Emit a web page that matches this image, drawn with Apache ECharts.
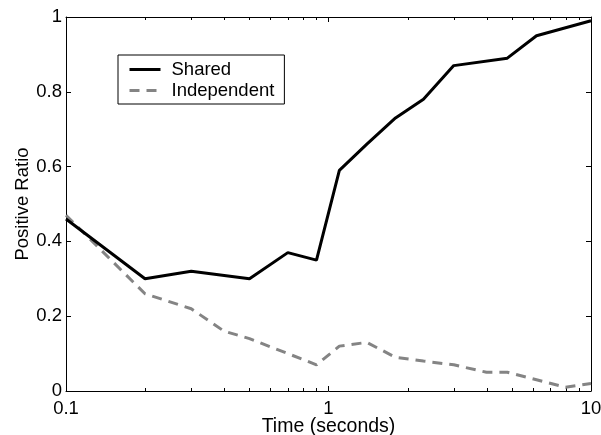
<!DOCTYPE html>
<html>
<head>
<meta charset="utf-8">
<title>Positive Ratio over Time</title>
<script src="https://cdn.jsdelivr.net/npm/echarts@6/dist/echarts.min.js"></script>
<style>
  html, body { margin: 0; padding: 0; background: #ffffff; }
  #chart { width: 601px; height: 435px; }
</style>
</head>
<body>
<div id="chart"></div>
<script>
// Measured positive ratio for the two configurations, sampled on a log time scale
const sharedTime = [0.1, 0.2, 0.3, 0.5, 0.7, 0.9, 1.1, 1.4, 1.8, 2.3, 3.0, 4.8, 6.2, 10];
const sharedRatio = [0.46, 0.30, 0.32, 0.30, 0.37, 0.35, 0.59, 0.66, 0.73, 0.78, 0.87, 0.89, 0.95, 0.99];

const independentTime = [0.1, 0.2, 0.3, 0.4, 0.5, 0.7, 0.9, 1.1, 1.4, 1.8, 2.3, 3.0, 4.0, 4.8, 6.2, 8.0, 10];
const independentRatio = [0.47, 0.26, 0.22, 0.16, 0.14, 0.10, 0.07, 0.12, 0.13, 0.09, 0.08, 0.07, 0.05, 0.05, 0.03, 0.01, 0.02];

// Intermediate log-decade tick positions (2..9 of each decade)
const minorTicks = [0.2, 0.3, 0.4, 0.5, 0.6, 0.7, 0.8, 0.9, 2, 3, 4, 5, 6, 7, 8, 9];

const seriesNames = ['Shared', 'Independent'];
const xName = 'Time (seconds)';
const yName = 'Positive Ratio';

const FONT = "'Liberation Sans', Arial, Helvetica, sans-serif";
const INK = '#000000';
const GREY = '#848484';

const pairs = (xs, ys) => xs.map((x, i) => [x, ys[i]]);

const baseX = {
  type: 'log',
  logBase: 10,
  min: 0.1,
  max: 10,
  splitLine: { show: false },
  axisLine: { show: true, onZero: false, lineStyle: { color: INK, width: 1 } },
  axisTick: { show: true, inside: true, length: 5, lineStyle: { color: INK, width: 1 } },
  minorTick: { show: false }
};
const baseY = {
  type: 'value',
  min: 0,
  max: 1,
  interval: 0.2,
  splitLine: { show: false },
  axisLine: { show: true, onZero: false, lineStyle: { color: INK, width: 1 } },
  axisTick: { show: true, inside: true, length: 5, lineStyle: { color: INK, width: 1 } }
};

const chart = echarts.init(document.getElementById('chart'), null, { renderer: 'canvas' });

chart.setOption({
  animation: false,
  backgroundColor: '#ffffff',
  textStyle: { fontFamily: FONT },
  grid: { left: 66, right: 10, top: 17, bottom: 44, containLabel: false, outerBoundsMode: 'none' },
  legend: {
    orient: 'vertical',
    left: 118,
    top: 55,
    data: seriesNames,
    itemWidth: 31,
    itemHeight: 14,
    itemGap: 2,
    padding: [5, 10, 4, 10],
    borderColor: INK,
    borderWidth: 1,
    backgroundColor: '#ffffff',
    selectedMode: false,
    itemStyle: { opacity: 0 },
    lineStyle: { width: 3 },
    textStyle: { fontFamily: FONT, fontSize: 18.5, color: INK, padding: [0, 0, 0, 6] }
  },
  xAxis: [
    Object.assign({}, baseX, {
      position: 'bottom',
      name: xName,
      nameLocation: 'middle',
      nameGap: 26,
      nameMoveOverlap: false,
      nameTextStyle: { fontFamily: FONT, fontSize: 19.5, color: INK },
      axisLabel: { fontFamily: FONT, fontSize: 18.5, color: INK, margin: 8 }
    }),
    Object.assign({}, baseX, {
      position: 'top',
      axisLabel: { show: false }
    })
  ],
  yAxis: [
    Object.assign({}, baseY, {
      position: 'left',
      name: yName,
      nameLocation: 'middle',
      nameGap: 34,
      nameMoveOverlap: false,
      nameTextStyle: { fontFamily: FONT, fontSize: 18.5, color: INK },
      axisLabel: { fontFamily: FONT, fontSize: 18.5, color: INK, margin: 4 }
    }),
    Object.assign({}, baseY, {
      position: 'right',
      axisLabel: { show: false }
    })
  ],
  series: [
    {
      name: seriesNames[0],
      type: 'line',
      xAxisIndex: 0,
      yAxisIndex: 0,
      data: pairs(sharedTime, sharedRatio),
      symbol: 'none',
      color: INK,
      lineStyle: { color: INK, width: 3 },
      z: 3
    },
    {
      name: seriesNames[1],
      type: 'line',
      xAxisIndex: 0,
      yAxisIndex: 0,
      data: pairs(independentTime, independentRatio),
      symbol: 'none',
      color: GREY,
      lineStyle: { color: GREY, width: 3, type: [10, 7] },
      z: 2
    },
    {
      // short inward ticks at 2..9 of each decade, on the bottom and top edges
      name: 'minor-ticks',
      type: 'custom',
      xAxisIndex: 0,
      yAxisIndex: 0,
      silent: true,
      clip: false,
      data: minorTicks.map(v => [v]),
      encode: { x: 0 },
      renderItem: function (params, api) {
        const v = api.value(0);
        const bottom = api.coord([v, 0]);
        const top = api.coord([v, 1]);
        const x = Math.round(bottom[0]) + 0.5;
        const style = { stroke: INK, lineWidth: 1 };
        return {
          type: 'group',
          children: [
            { type: 'line', shape: { x1: x, y1: bottom[1], x2: x, y2: bottom[1] - 3 }, style: style },
            { type: 'line', shape: { x1: x, y1: top[1], x2: x, y2: top[1] + 3 }, style: style }
          ]
        };
      },
      z: 1
    }
  ]
});
</script>
</body>
</html>
